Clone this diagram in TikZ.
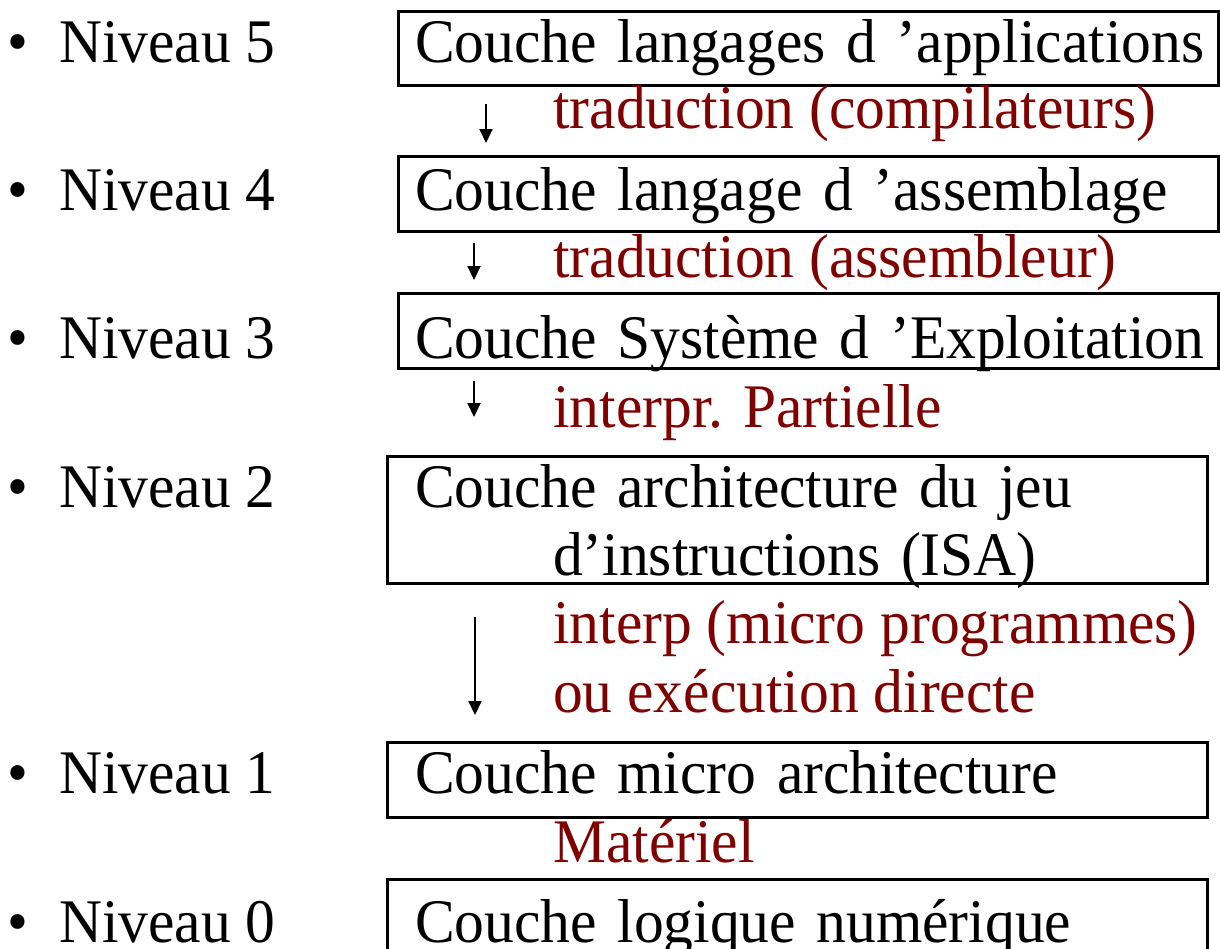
\documentclass[tikz,border=0pt]{standalone}
\usepackage{fontspec}
\setmainfont[FakeStretch=0.96]{Liberation Serif}
\usepackage{xcolor}
\usepackage{tikz}
\usetikzlibrary{arrows.meta}
\definecolor{bordeaux}{RGB}{128,0,0}
\tikzstyle{couche} = [draw=black, line width=3pt, rectangle, anchor=base west,
outer sep=0pt, inner ysep=0pt, align=left]
\tikzstyle{niveau} = [anchor=base west, inner sep=0pt]
\tikzstyle{trad} = [text=bordeaux, anchor=base west, inner sep=0pt]
\tikzstyle{fleche} = [draw=black, line width=2pt, -{Triangle[width=13pt,length=14pt]}]

\begin{document}
\begin{tikzpicture}[x=1pt, y=-1pt, font=\fontsize{62}{68}\selectfont]
        \useasboundingbox (0,0) rectangle (1220,948);
        % niveaux
        \node[niveau] (n5) at (7,62)  {\makebox[52pt][l]{•}Niveau 5};
        \node[niveau] (n4) at (7,210) {\makebox[52pt][l]{•}Niveau 4};
        \node[niveau] (n3) at (7,358) {\makebox[52pt][l]{•}Niveau 3};
        \node[niveau] (n2) at (7,507) {\makebox[52pt][l]{•}Niveau 2};
        \node[niveau] (n1) at (7,793) {\makebox[52pt][l]{•}Niveau 1};
        \node[niveau] (n0) at (7,942) {\makebox[52pt][l]{•}Niveau 0};
        % couches
        \node[couche, inner xsep=17pt, text width=786pt, text height=51pt, text depth=23pt]
            (c5) at (398,62) {\mbox{Couche langages d ’applications}};
        \node[couche, inner xsep=17pt, text width=786pt, text height=54pt, text depth=21pt]
            (c4) at (398,210) {\mbox{Couche langage d ’assemblage}};
        \node[couche, inner xsep=17pt, text width=786pt, text height=65pt, text depth=10pt]
            (c3) at (398,358) {\mbox{Couche Système d ’Exploitation}};
        \node[couche, inner xsep=28pt, text width=764pt, text height=51pt, text depth=76pt]
            (c2) at (387,507) {\mbox{Couche architecture du jeu}\\\hspace*{138pt}\mbox{d’instructions (ISA)}};
        \node[couche, inner xsep=28pt, text width=764pt, text height=51pt, text depth=24pt]
            (c1) at (387,793) {\mbox{Couche micro architecture}};
        \node[couche, inner xsep=28pt, text width=764pt, text height=63pt, text depth=30pt]
            (c0) at (387,942) {\mbox{Couche logique numérique}};
        % traductions
        \node[trad] (t54) at (553,128) {traduction (compilateurs)};
        \node[trad] (t43) at (553,277) {traduction (assembleur)};
        \node[trad] (t32) at (553,427) {interpr. Partielle};
        \node[trad] (t21) at (553,643) {interp (micro programmes)};
        \node[trad] (t21b) at (553,712) {ou exécution directe};
        \node[trad] (t10) at (553,862) {Matériel};
        % fleches
        \coordinate (f54a) at (486,104); \coordinate (f54b) at (486,143);
        \coordinate (f43a) at (474,243); \coordinate (f43b) at (474,280);
        \coordinate (f32a) at (474,381); \coordinate (f32b) at (474,417);
        \coordinate (f21a) at (475,617); \coordinate (f21b) at (475,715);
        \draw[fleche] (f54a) -- (f54b);
        \draw[fleche] (f43a) -- (f43b);
        \draw[fleche] (f32a) -- (f32b);
        \draw[fleche] (f21a) -- (f21b);
    \end{tikzpicture}
\end{document}
